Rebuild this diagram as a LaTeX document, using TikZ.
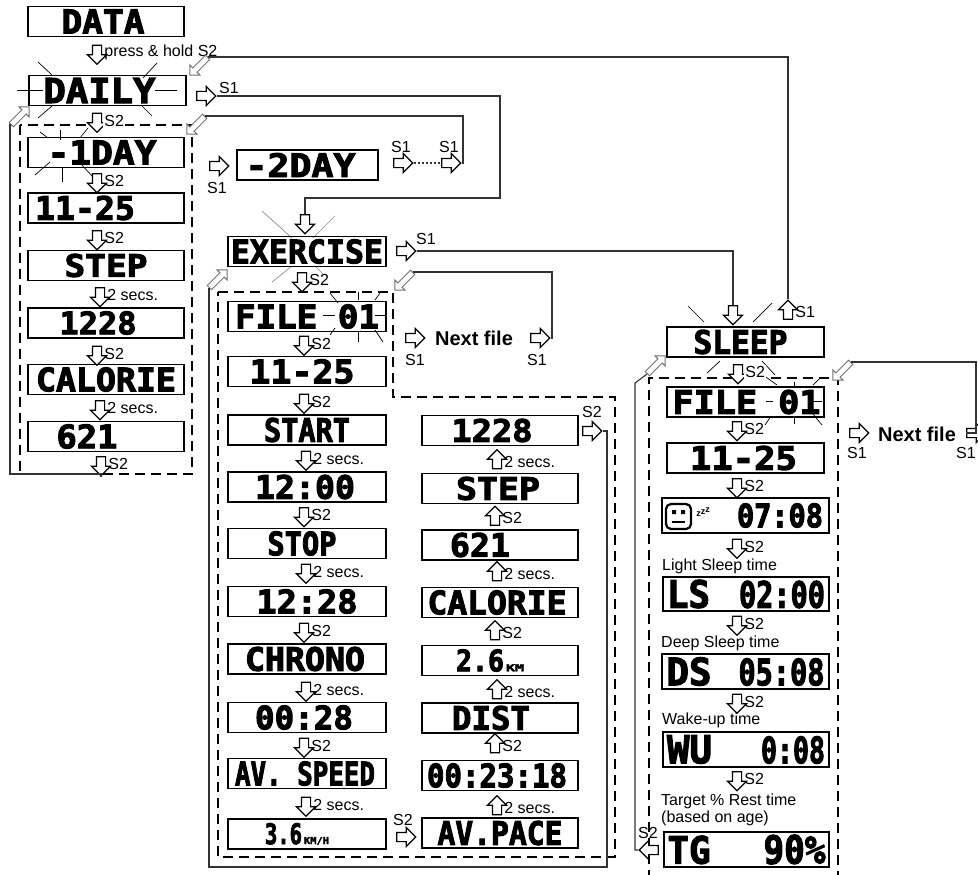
\documentclass[tikz,border=0pt]{standalone}
\usepackage{graphicx}
\usepackage{fontspec}
\setmainfont{Liberation Sans}
\newfontfamily\lcdfont[FakeBold=3]{DejaVu Sans Mono Bold}
\usetikzlibrary{shapes.arrows, positioning}

\begin{document}
\begin{tikzpicture}[x=1pt, y=-1pt,
  lcd/.style={draw, line width=1.3pt, minimum width=156pt, minimum height=30pt, inner sep=0pt},
  harrow/.style={single arrow, draw, fill=white, line width=1.2pt, inner sep=4pt,
    single arrow head extend=5pt, minimum height=19pt},
  darrow/.style={harrow, draw=black!55, line width=1pt, inner sep=2.5pt,
    single arrow head extend=4pt, minimum height=25pt},
  arrS/.style={shape border rotate=270},
  arrN/.style={shape border rotate=90},
  arrW/.style={shape border rotate=180},
  arrSW/.style={rotate=225},
  arrNE/.style={rotate=45},
  lbl/.style={font=\fontsize{16}{17}\selectfont, inner sep=1pt},
  conn/.style={line width=1.1pt, black!80},
  frame/.style={line width=1.2pt, dash pattern=on 10pt off 6pt},
  ray/.style={line width=0.7pt}]
  \def\seg#1#2#3#4{\hspace*{#1pt}\hspace*{#1pt}\resizebox{#2pt}{#3pt}{\lcdfont #4}}

  \useasboundingbox (0,0) rectangle (978,875);
  \clip (0,0) rectangle (978,875);

  % dashed groups
  \draw [frame] (20,125) rectangle (192,474);
  \draw [frame] (218,292) -- (393,292) -- (393,397) -- (615,397) -- (615,857) -- (218,857) -- cycle;
  \draw [frame] (649,880) -- (649,378) -- (838,378) -- (838,880);

  % blinking rays
  \foreach \xa/\ya/\xb/\yb in {17/90/43/90, 155/90/177/90, 38/62/52/75, 157/63/143/78,
      52/106/38/118, 142/106/152/116, 60/130/60/140, 62/167/62/182, 40/132/48/138,
      88/128/80/138, 35/175/50/162, 80/163/93/177,
      330/293/338/303, 358/292/358/300, 380/293/375/300, 323/315/335/315, 375/315/385/315,
      335/328/330/335, 358/332/358/342, 375/330/383/342,
      688/306/704/322, 772/303/753/322, 720/361/707/373, 762/361/775/375,
      763/375/777/385, 794/382/794/388, 820/378/813/385, 766/401/773/401, 813/401/822/401,
      771/416/765/425, 794/417/794/424, 813/414/822/425}
    \draw [ray] (\xa,\ya) -- (\xb,\yb);
  \foreach \xa/\ya/\xb/\yb in {262/211/292/238, 335/216/313/238, 292/266/272/282, 315/266/324/275}
    \draw [ray, black!45] (\xa,\ya) -- (\xb,\yb);

  % daily column
  \node [lcd] (data) at (106,21.5) {\seg{-3}{83}{24}{DATA}};
  \node [harrow, arrS] (aData) at (97,52.5) {};
  \node [lbl, right=1pt of aData] (tData) {press \& hold S2};
  \node [lcd, minimum width=157pt] (daily) at (107.5,90.5) {\seg{-8}{112}{25}{DAILY}};
  \node [harrow, arrS] (aDaily) at (97,120.5) {};
  \node [lbl, fill=white, right=1pt of aDaily] (tDaily) {S2};
  \node [lcd] (day1) at (106,152.5) {\seg{-4}{109}{24}{-1DAY}};
  \node [harrow, arrS] (aDay1) at (97,181) {};
  \node [lbl, right=1pt of aDay1] (tDay1) {S2};
  \node [lcd] (dDate) at (106,208) {\seg{-21}{100}{24}{11-25}};
  \node [harrow, arrS] (aDate) at (97,238) {};
  \node [lbl, right=1pt of aDate] (tDate) {S2};
  \node [lcd] (dStep) at (106,265.5) {\seg{0}{83}{23}{STEP}};
  \node [harrow, arrS] (aStep) at (100,295) {};
  \node [lbl, right=1pt of aStep] (tStep) {2 secs.};
  \node [lcd] (dSteps) at (106,323) {\seg{-8}{77}{23}{1228}};
  \node [harrow, arrS] (aSteps) at (97,353.5) {};
  \node [lbl, right=1pt of aSteps] (tSteps) {S2};
  \node [lcd] (dCal) at (106,379.5) {\seg{0}{140}{24}{CALORIE}};
  \node [harrow, arrS] (aCal) at (100,408) {};
  \node [lbl, right=1pt of aCal] (tCal) {2 secs.};
  \node [lcd] (dKcal) at (106,436.5) {\seg{-19}{61}{24}{621}};
  \node [harrow, arrS] (aKcal) at (101,464) {};
  \node [lbl, right=1pt of aKcal] (tKcal) {S2};

  \node [harrow] (aDailyS1) at (204,96) {};
  \node [lbl] (tDailyS1) at (229,87.5) {S1};
  \node [harrow] (aDay2) at (217,166) {};
  \node [lbl] (tDay2) at (217,188) {S1};
  \node [lcd, minimum width=141pt] (day2) at (307.5,165) {\seg{-7}{110}{24}{-2DAY}};
  \node [harrow] (aDayN) at (401,163) {};
  \node [lbl] (tDayN) at (401,147) {S1};
  \node [harrow] (aDayM) at (449,163) {};
  \node [lbl] (tDayM) at (449,147) {S1};

  % exercise
  \node [harrow, arrS] (aExIn) at (305,222) {};
  \node [lcd, minimum width=158pt] (ex) at (307,251.5) {\seg{0}{152}{24}{EXERCISE}};
  \node [harrow] (aExS1) at (404,251) {};
  \node [lbl] (tExS1) at (426,239) {S1};
  \node [harrow, arrS] (aEx) at (302,280) {};
  \node [lbl, right=1pt of aEx] (tEx) {S2};

  \node [lcd, minimum width=158pt] (fFile) at (307,316.5) {\seg{0}{144}{24}{FILE 01}};
  \node [harrow, arrS] (aF1) at (304,343.5) {};
  \node [lbl, right=1pt of aF1] (tF1) {S2};
  \node [lcd, minimum width=158pt] (fDate) at (307,371.5) {\seg{-5}{105}{24}{11-25}};
  \node [harrow, arrS] (aF2) at (304,401.5) {};
  \node [lbl, right=1pt of aF2] (tF2) {S2};
  \node [lcd, minimum width=158pt] (fStart) at (307,430) {\seg{0}{86}{24}{START}};
  \node [harrow, arrS] (aF3) at (306,458.5) {};
  \node [lbl, right=1pt of aF3] (tF3) {2 secs.};
  \node [lcd, minimum width=158pt] (fT1) at (307,487) {\seg{-2}{100}{24}{12:00}};
  \node [harrow, arrS] (aF4) at (304,515) {};
  \node [lbl, right=1pt of aF4] (tF4) {S2};
  \node [lcd, minimum width=158pt] (fStop) at (307,543.5) {\seg{-5}{69}{24}{STOP}};
  \node [harrow, arrS] (aF5) at (306,571.5) {};
  \node [lbl, right=1pt of aF5] (tF5) {2 secs.};
  \node [lcd, minimum width=158pt] (fT2) at (307,601.5) {\seg{0}{101}{24}{12:28}};
  \node [harrow, arrS] (aF6) at (304,630.5) {};
  \node [lbl, right=1pt of aF6] (tF6) {S2};
  \node [lcd, minimum width=158pt] (fChrono) at (307,659) {\seg{-2}{120}{24}{CHRONO}};
  \node [harrow, arrS] (aF7) at (306,689.5) {};
  \node [lbl, right=1pt of aF7] (tF7) {2 secs.};
  \node [lcd, minimum width=158pt] (fT3) at (307,717.5) {\seg{-3}{98}{24}{00:28}};
  \node [harrow, arrS] (aF8) at (304,745.5) {};
  \node [lbl, right=1pt of aF8] (tF8) {S2};
  \node [lcd, minimum width=158pt] (fSpeed) at (307,773.5) {\seg{-2}{140}{24}{AV. SPEED}};
  \node [harrow, arrS] (aF9) at (306,804.5) {};
  \node [lbl, right=1pt of aF9] (tF9) {2 secs.};
  \node [lcd, minimum width=158pt] (fSpd) at (307,834)
    {\seg{-10}{37}{21}{3.6}\hspace*{2pt}\seg{0}{25}{7}{KM/H}};

  \node [harrow] (aPace) at (404,837) {};
  \node [lbl] (tPace) at (403,820) {S2};
  \node [lcd] (gPace) at (500,833) {\seg{0}{125}{24}{AV.PACE}};
  \node [harrow, arrN] (bG7) at (497,807.5) {};
  \node [lbl, right=1pt of bG7] (tG7) {2 secs.};
  \node [lcd] (gTime) at (500,775.5) {\seg{-3}{140}{24}{00:23:18}};
  \node [harrow, arrN] (bG6) at (495,745.5) {};
  \node [lbl, right=1pt of bG6] (tG6) {S2};
  \node [lcd] (gDst) at (500,718) {\seg{-9}{78}{24}{DIST}};
  \node [harrow, arrN] (bG5) at (497,691.5) {};
  \node [lbl, right=1pt of bG5] (tG5) {2 secs.};
  \node [lcd] (gDist) at (500,660.5)
    {\seg{-10}{48}{22}{2.6}\hspace*{2pt}\seg{0}{18}{7}{KM}};
  \node [harrow, arrN] (bG4) at (495,632.5) {};
  \node [lbl, right=1pt of bG4] (tG4) {S2};
  \node [lcd] (gCal) at (500,602.5) {\seg{-3}{139}{24}{CALORIE}};
  \node [harrow, arrN] (bG3) at (497,573.5) {};
  \node [lbl, right=1pt of bG3] (tG3) {2 secs.};
  \node [lcd] (gKcal) at (500,545) {\seg{-20}{60}{24}{621}};
  \node [harrow, arrN] (bG2) at (495,518) {};
  \node [lbl, right=1pt of bG2] (tG2) {S2};
  \node [lcd] (gStep) at (500,488.5) {\seg{-2}{84}{23}{STEP}};
  \node [harrow, arrN] (bG1) at (497,461.5) {};
  \node [lbl, right=1pt of bG1] (tG1) {2 secs.};
  \node [lcd] (gSteps) at (500,430.5) {\seg{-8}{81}{23}{1228}};
  \node [harrow] (aBack) at (590,431) {};
  \node [lbl] (tBack) at (592,412) {S2};

  \node [harrow] (enL) at (413,338) {};
  \node [lbl] (tEnL) at (415,360) {S1};
  \node [font=\fontsize{20}{20}\selectfont\bfseries, inner sep=1pt] (exNext) at (474,338) {Next file};
  \node [harrow] (enR) at (538,338) {};
  \node [lbl] (tEnR) at (537,360) {S1};

  % sleep
  \node [harrow, arrS] (aSlIn) at (733,313) {};
  \node [harrow, arrN] (sUp) at (788,312) {};
  \node [lbl, right=1pt of sUp] (tUp) {S1};
  \node [lcd, minimum width=157pt] (sleep) at (745.5,342) {\seg{-5}{94}{24}{SLEEP}};
  \node [harrow, arrS] (aS0) at (738,372) {};
  \node [lbl, fill=white, right=1pt of aS0] (tS0) {S2};
  \node [lcd, minimum width=157pt] (sFile) at (745.5,402) {\seg{1}{148}{24}{FILE 01}};
  \node [harrow, arrS] (aS1) at (737,429) {};
  \node [lbl, right=1pt of aS1] (tS1) {S2};
  \node [lcd, minimum width=157pt] (sDate) at (745.5,458) {\seg{-2}{107}{24}{11-25}};
  \node [harrow, arrS] (aS2) at (737,486) {};
  \node [lbl, right=1pt of aS2] (tS2) {S2};
  \node [lcd, minimum width=167pt, minimum height=35pt] (sTot) at (745.5,515.5) {\seg{34.5}{86}{24}{07:08}};
  \node [harrow, arrS] (aS3) at (737,546.5) {};
  \node [lbl, right=1pt of aS3] (tS3) {S2};
  \node [lbl, anchor=west] (tLS) at (661,566) {Light Sleep time};
  \node [lcd, minimum width=166pt, minimum height=34pt] (sLS) at (746,594)
    {\makebox[158pt]{\seg{0}{43}{28}{LS}\hfill\seg{0}{86}{27}{02:00}}};
  \node [harrow, arrS] (aS4) at (737,623.5) {};
  \node [lbl, right=1pt of aS4] (tS4) {S2};
  \node [lbl, anchor=west] (tDS) at (660,643) {Deep Sleep time};
  \node [lcd, minimum width=167pt, minimum height=35pt] (sDS) at (745.5,671.5)
    {\makebox[158pt]{\seg{0}{45}{28}{DS}\hfill\seg{0}{86}{27}{05:08}}};
  \node [harrow, arrS] (aS5) at (737,701.5) {};
  \node [lbl, right=1pt of aS5] (tS5) {S2};
  \node [lbl, anchor=west] (tWU) at (661,720) {Wake-up time};
  \node [lcd, minimum width=166pt, minimum height=35pt] (sWU) at (746,749.5)
    {\makebox[158pt]{\seg{0}{45}{28}{WU}\hfill\seg{0}{64}{27}{0:08}}};
  \node [harrow, arrS] (aS6) at (737,779) {};
  \node [lbl, right=1pt of aS6] (tS6) {S2};
  \node [lbl, anchor=north west, align=left] (tTG) at (660,793) {Target \% Rest time\\(based on age)};
  \node [lcd, minimum width=165pt, minimum height=35pt] (sTG) at (746.5,849.5)
    {\makebox[158pt]{\seg{0}{43}{28}{TG}\hfill\seg{0}{62}{29}{90\%}}};
  \node [harrow, arrW] (sL) at (651,850) {};
  \node [lbl] (tSL) at (648,833) {S2};

  \node [harrow] (snL) at (857,433) {};
  \node [lbl] (tSnL) at (857,453) {S1};
  \node [font=\fontsize{20}{20}\selectfont\bfseries, inner sep=1pt] (slNext) at (917,434) {Next file};
  \node [harrow] (snR) at (974,433) {};
  \node [lbl] (tSnR) at (966,453) {S1};

  % sleeping face
  \draw [line width=2.2pt, rounded corners=5pt] (666,504) rectangle (691,529);
  \fill (672,510) rectangle (676,514) (681,510) rectangle (685,514);
  \draw [line width=1.6pt] (672,522) -- (685,522);
  \node [font=\fontsize{9}{9}\selectfont\bfseries, inner sep=0pt] (zzz) at (703,512)
    {z\raisebox{2pt}{z}\raisebox{4pt}{z}};

  % return arrows into corners
  \node [darrow, arrSW, anchor=tail] (rData) at (208,57) {};
  \node [darrow, arrSW, anchor=tail] (rDay) at (205,116) {};
  \node [darrow, arrNE, anchor=tail] (rLoop) at (11,125) {};
  \node [darrow, arrNE, anchor=tail] (rEx) at (209,288) {};
  \node [darrow, arrSW, anchor=tail] (rExF) at (413,272) {};
  \node [darrow, arrNE, anchor=tail] (rSl) at (647,374) {};
  \node [darrow, arrSW, anchor=tail] (rSlF) at (851,362) {};

  \coordinate (kA) at (500,198);
  \coordinate (kB) at (463,116);
  \coordinate (kC) at (10,474);
  \coordinate (kD) at (607,867);
  \coordinate (kE) at (552,272);
  \coordinate (kF) at (635,850);
  \coordinate (kG) at (635,383);
  \coordinate (kH) at (976,362);

  \draw [conn] (sUp.tip) |- (rData.tail);
  \draw [conn] (aDailyS1.tip) -| (kA) -| (aExIn.tail);
  \draw [conn, dash pattern=on 2.5pt off 1.5pt] (aDayN.tip) -- (aDayM.tail);
  \draw [conn] (aDayM.tip) -| (kB) |- (rDay.tail);
  \draw [conn] (aKcal.tip) |- (kC) |- (rLoop.tail);
  \draw [conn] (aExS1.tip) -| (aSlIn.tail);
  \draw [conn] (aBack.tip) -| (kD) -| (rEx.tail);
  \draw [conn] (enR.tip) -| (kE) -- (rExF.tail);
  \draw [conn] (sL.tip) -- (kF) -- (kG) -- (rSl.tail);
  \draw [conn] (snR.west) -| (kH) -- (rSlF.tail);
\end{tikzpicture}
\end{document}
